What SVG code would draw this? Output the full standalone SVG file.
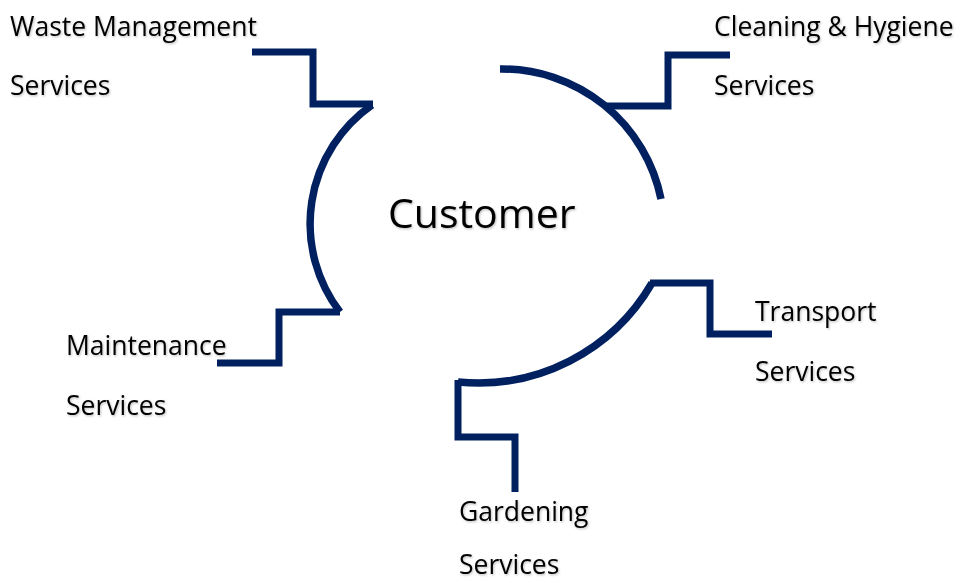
<svg xmlns="http://www.w3.org/2000/svg" width="960" height="583" viewBox="0 0 960 583">
<defs>
<filter id="sh" x="-5%" y="-20%" width="110%" height="140%">
<feDropShadow dx="1" dy="1.2" stdDeviation="0.8" flood-color="#000" flood-opacity="0.25"/>
</filter>
</defs>
<style>
.ln{fill:none;stroke:#002060;stroke-width:7;stroke-linejoin:miter;stroke-linecap:butt}
.arc{fill:none;stroke:#002060;stroke-width:7.5;stroke-linecap:butt}
.t{font-family:"Open Sans","Noto Sans","Liberation Sans",sans-serif;font-size:26.5px;fill:#000;filter:url(#sh)}
.c{font-family:"Open Sans","Noto Sans","Liberation Sans",sans-serif;font-size:41px;fill:#000;filter:url(#sh)}
</style>
<rect width="960" height="583" fill="#fff"/>
<g id="connectors">
<path class="ln" d="M252,52 H313 V104 H373"/>
<path class="ln" d="M605,106 H668 V55 H730"/>
<path class="ln" d="M340,312 H279 V363 H217"/>
<path class="ln" d="M650,283 H710 V334 H772"/>
<path class="ln" d="M458,380 V437 H515 V492"/>
</g>
<g id="customer">
<path class="arc" d="M500,69 A162,162 0 0 1 661,199"/>
<path class="arc" d="M372,105 A145,145 0 0 0 340,312"/>
<path class="arc" d="M652,283 A201,201 0 0 1 458,382"/>
<text class="c" x="388" y="228">Customer</text>
</g>
<g id="waste">
<text class="t" x="10" y="36">Waste Management</text>
<text class="t" x="10" y="95">Services</text>
</g>
<g id="cleaning">
<text class="t" x="714" y="36">Cleaning &amp; Hygiene</text>
<text class="t" x="714" y="95">Services</text>
</g>
<g id="maintenance">
<text class="t" x="66" y="355">Maintenance</text>
<text class="t" x="66" y="415">Services</text>
</g>
<g id="transport">
<text class="t" x="755" y="321">Transport</text>
<text class="t" x="755" y="381">Services</text>
</g>
<g id="gardening">
<text class="t" x="459" y="521">Gardening</text>
<text class="t" x="459" y="574">Services</text>
</g>
</svg>
